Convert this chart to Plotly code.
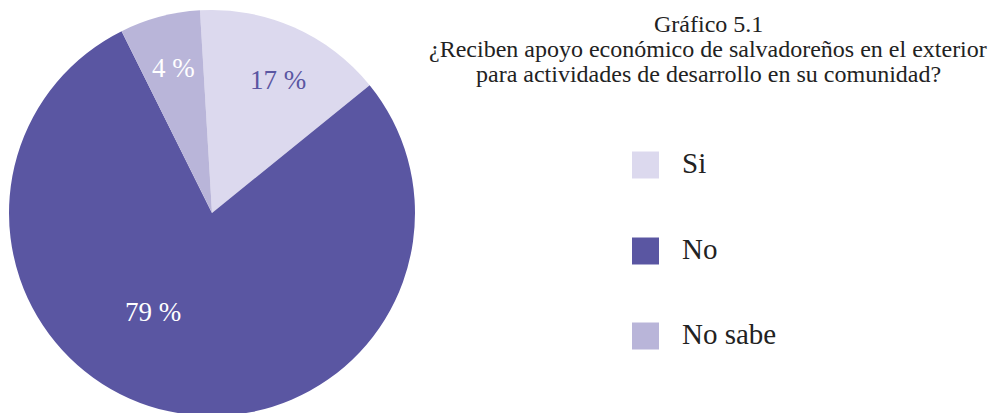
import plotly.graph_objects as go

categorias = ["Si", "No", "No sabe"]
# shares as drawn in the picture (the printed labels are rounded in the source)
valores = [15.1, 78.5, 6.4]
etiquetas = ["17 %", "79 %", "4 %"]
colores = ["#dcd9ee", "#5a56a2", "#b9b5d9"]
color_texto = ["#5a56a2", "white", "white"]

titulo = ["Gráfico 5.1",
          "¿Reciben apoyo económico de salvadoreños en el exterior",
          "para actividades de desarrollo en su comunidad?"]

FONT = "Liberation Serif"
W, H = 1000, 413
# the html page puts the plot 8px in from the top-left corner, so work in plot pixels


def px(x, y):
    return x / W, 1 - y / H


fig = go.Figure(go.Pie(
    labels=categorias,
    values=valores,
    textinfo="none",
    marker=dict(colors=colores, line=dict(width=0)),
    sort=False,
    direction="clockwise",
    rotation=-3.4,
    domain=dict(x=[1 / W, 407 / W], y=[5 / H, 411 / H]),
    showlegend=False,
    hoverinfo="label+percent",
))

# slice labels (placed like in the original, not at the slice middle)
pos_etiquetas = [(270, 72), (145, 304), (165, 60)]
for txt, col, (x, y) in zip(etiquetas, color_texto, pos_etiquetas):
    ax, ay = px(x, y)
    fig.add_annotation(text=txt, x=ax, y=ay, xref="paper", yref="paper",
                       xanchor="center", yanchor="middle", showarrow=False,
                       font=dict(family=FONT, size=27, color=col))

# title, three centred lines with tight leading
for linea, y in zip(titulo, [16, 41, 66]):
    ax, ay = px(700, y)
    fig.add_annotation(text=linea, x=ax, y=ay,
                       xref="paper", yref="paper", xanchor="center", yanchor="middle",
                       showarrow=False, font=dict(family=FONT, size=24, color="#222222"))

# legend drawn by hand: big square swatches and labels
for cat, col, yc in zip(categorias, colores, [157, 243, 328]):
    x0, y0 = px(624, yc + 13.5)
    x1, y1 = px(651, yc - 13.5)
    fig.add_shape(type="rect", xref="paper", yref="paper",
                  x0=x0, x1=x1, y0=y0, y1=y1,
                  fillcolor=col, line=dict(width=0))
    ax, ay = px(672, yc - 2)
    fig.add_annotation(text=cat, x=ax, y=ay,
                       xref="paper", yref="paper", xanchor="left", yanchor="middle",
                       showarrow=False, font=dict(family=FONT, size=29, color="#222222"))

fig.update_layout(
    width=W, height=H,
    margin=dict(l=0, r=0, t=0, b=0),
    paper_bgcolor="white",
    plot_bgcolor="white",
)

fig.write_html("out.html")
